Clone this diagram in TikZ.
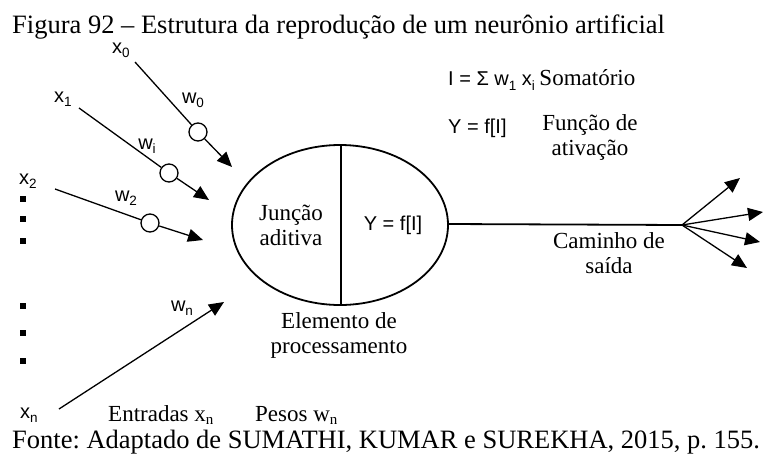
\documentclass[tikz,border=0pt]{standalone}
\usepackage{fontspec}
\setmainfont{Liberation Serif}
\newfontfamily\arialf{Liberation Sans}
\usetikzlibrary{arrows.meta}
\newcommand{\lsub}[1]{\raisebox{-0.4ex}{\fontsize{13.5}{13.5}\selectfont #1}}
\newcommand{\tsub}[1]{\raisebox{-0.3ex}{\fontsize{15}{15}\selectfont #1}}
\frenchspacing
\begin{document}
\begin{tikzpicture}[x=1pt,y=-1pt,
  big/.style={font=\fontsize{26.5}{30}\selectfont, inner sep=0},
  ser/.style={font=\fontsize{23}{25}\selectfont, inner sep=0, align=center},
  san/.style={font=\arialf\fontsize{20}{22}\selectfont, inner sep=0},
  wire/.style={line width=1.3pt},
  arr/.style={wire, -{Triangle[length=15pt,width=13pt]}},
  wt/.style={circle, draw, fill=white, minimum size=18pt, inner sep=0, line width=1.3pt},
  sq/.style={rectangle, fill=black, minimum size=6pt, inner sep=0}]
\useasboundingbox (0,0) rectangle (771,453);

% title and source
\node[big, anchor=base west] (title) at (12,33) {Figura 92 -- Estrutura da reprodução de um neurônio artificial};
\node[big, anchor=base west] (fonte) at (12,448) {Fonte: Adaptado de SUMATHI, KUMAR e SUREKHA, 2015, p. 155.};

% neuron
\draw[line width=1.8pt] (340,225) ellipse [x radius=108, y radius=80];
\coordinate (divt) at (341,145);
\coordinate (divb) at (341,305);
\draw[line width=1.8pt] (divt) -- (divb);
\node[ser] (junc) at (291,225) {Junção\\aditiva};
\node[san] (yf) at (393,225) {Y = f[I]};

% inputs
\node[san] (lx0) at (121,50) {x\lsub{0}};
\node[san] (lx1) at (63,99) {x\lsub{1}};
\node[san] (lx2) at (28,181) {x\lsub{2}};
\node[san] (lxn) at (29,415) {x\lsub{n}};
\node[san] (lw0) at (193,100) {w\lsub{0}};
\node[san] (lwi) at (147,146) {w\lsub{i}};
\node[san] (lw2) at (126,198) {w\lsub{2}};
\node[san] (lwn) at (182,308) {w\lsub{n}};

\coordinate (s0) at (135,62);
\coordinate (t0) at (232,167);
\coordinate (s1) at (79,108);
\coordinate (t1) at (209,200);
\coordinate (s2) at (55,189);
\coordinate (t2) at (203,240);
\coordinate (sn) at (59,409);
\coordinate (tn) at (224,302);

\node[wt] (c0) at (198,132) {};
\node[wt] (c1) at (169,173) {};
\node[wt] (c2) at (150,223) {};

\draw[wire] (s0) -- (c0);
\draw[arr] (c0) -- (t0);
\draw[wire] (s1) -- (c1);
\draw[arr] (c1) -- (t1);
\draw[wire] (s2) -- (c2);
\draw[arr] (c2) -- (t2);
\draw[arr] (sn) -- (tn);

\node[sq] (d1) at (23,199) {};
\node[sq] (d2) at (23,219) {};
\node[sq] (d3) at (23,241) {};
\node[sq] (d4) at (23,306) {};
\node[sq] (d5) at (23,333) {};
\node[sq] (d6) at (23,361) {};

% right side labels
\node[anchor=west, inner sep=0] (som) at (448,80) {{\arialf\fontsize{20}{22}\selectfont I = Σ w\lsub{1} x\lsub{i}}\hspace{2pt} {\fontsize{23}{25}\selectfont Somatório}};
\node[san, anchor=west] (yf2) at (448,128) {Y = f[I]};
\node[ser] (func) at (590,137) {Função de\\ativação};
\node[ser] (elem) at (339,335) {Elemento de\\processamento};
\node[ser] (cam) at (609,253) {Caminho de\\saída};
\node[ser, anchor=base west] (entr) at (108,421) {Entradas x\tsub{n}};
\node[ser, anchor=base west] (pesos) at (255,421) {Pesos w\tsub{n}};

% output
\coordinate (eR) at (448,224);
\coordinate (sp) at (682,225);
\coordinate (o1) at (740,178);
\coordinate (o2) at (763,212);
\coordinate (o3) at (760,242);
\coordinate (o4) at (747,268);
\draw[line width=1.8pt] (eR) -- (sp);
\foreach \o in {o1,o2,o3,o4} \draw[arr] (sp) -- (\o);
\end{tikzpicture}
\end{document}
